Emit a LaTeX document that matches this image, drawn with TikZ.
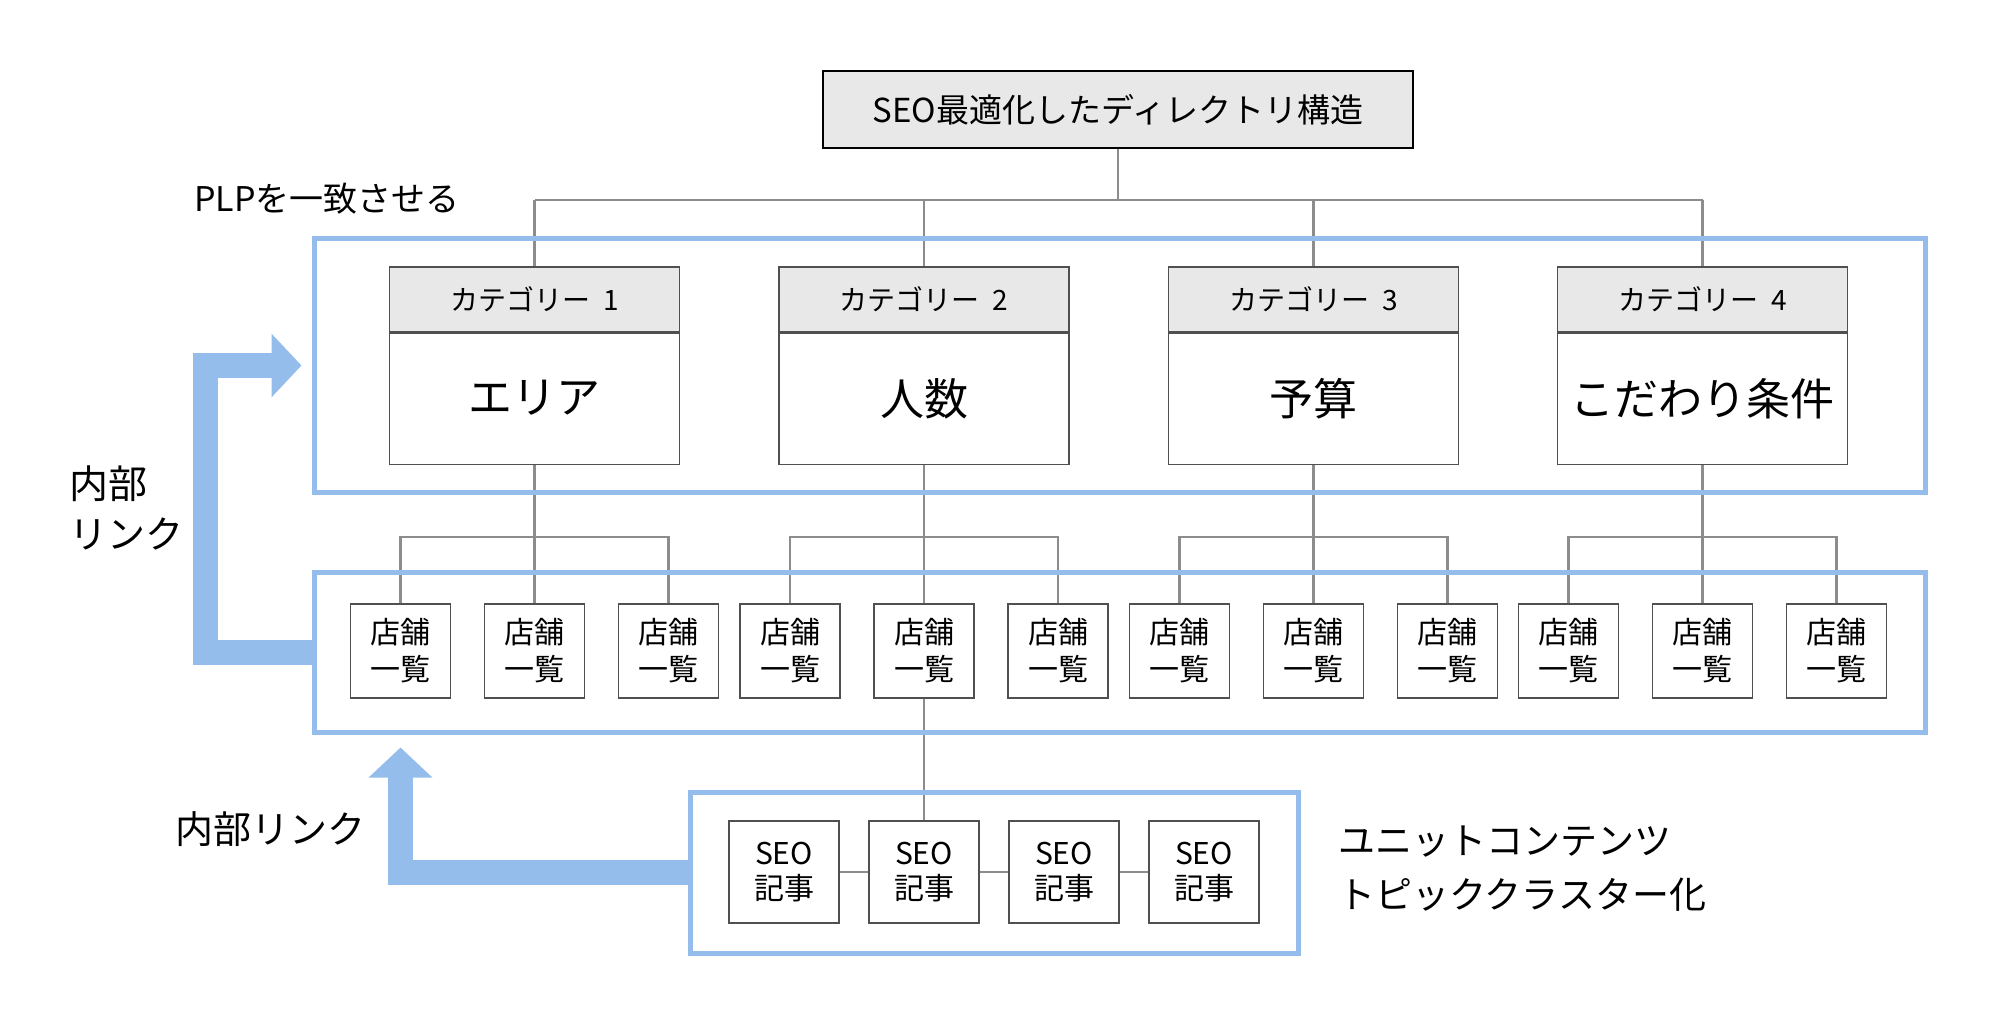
\documentclass[tikz,border=0pt]{standalone}
\usepackage{fontspec}
\setmainfont{Noto Sans CJK JP}
\usetikzlibrary{positioning,fit,calc,arrows.meta}
\definecolor{linkblue}{HTML}{94BDEC}
\definecolor{headgray}{HTML}{E8E8E8}
\definecolor{wiregray}{HTML}{8C8C8C}
\definecolor{edgegray}{HTML}{505050}

\begin{document}
\begin{tikzpicture}[x=0.5pt, y=-0.5pt,
    box/.style={draw=edgegray, line width=0.8pt, inner sep=0pt},
    headbox/.style={box, fill=headgray, minimum width=145pt, minimum height=32.5pt, font=\fontsize{14}{16}\selectfont},
    bodybox/.style={box, fill=white, minimum width=145pt, minimum height=65.5pt, font=\fontsize{22}{26}\selectfont},
    shopbox/.style={box, fill=white, minimum width=50pt, minimum height=47pt, align=center, font=\fontsize{15}{18.5}\selectfont},
    seobox/.style={box, fill=white, minimum width=55pt, minimum height=51pt, align=center, font=\fontsize{15}{17.5}\selectfont},
    zone/.style={draw=linkblue, line width=2.5pt, inner sep=0pt},
    link/.style={draw=wiregray, line width=1.2pt},
    bigarrow/.style={draw=linkblue, line width=12.5pt, -{Triangle[width=31pt, length=15pt]}},
    note/.style={inner sep=0pt, anchor=base west}
  ]
  \useasboundingbox (0,0) rectangle (2000,1021);

  % Title
  \node[box, draw=black, fill=headgray, minimum width=295pt, minimum height=38.5pt,
        font=\fontsize{16.5}{20}\selectfont] (title) at (1118,109.5) {SEO最適化したディレクトリ構造};
  \node[note, font=\fontsize{17}{20}\selectfont] (plp) at (194,212) {PLPを一致させる};

  % Categories and their shop lists
  \foreach \c/\x/\name in {1/534.5/エリア, 2/924/人数, 3/1313.5/予算, 4/1702.5/こだわり条件} {
    \node[headbox] (head\c) at (\x,299.5) {カテゴリー\hspace{0.45em}\c};
    \node[bodybox, below=0pt of head\c] (cat\c) {\raisebox{2.5pt}{\name}};
    \node[shopbox] (shop\c1) at (\x-134,651) {店舗\\一覧};
    \node[shopbox] (shop\c2) at (\x,651) {店舗\\一覧};
    \node[shopbox] (shop\c3) at (\x+134,651) {店舗\\一覧};
  }

  % SEO articles
  \foreach \s/\x in {1/784, 2/924, 3/1064, 4/1204}
    \node[seobox] (seo\s) at (\x,872) {SEO\\記事};

  % Tree lines
  \coordinate (catbus) at (0,200);
  \coordinate (shopbus) at (0,537);
  \draw[link] (title.south) -- (title.south |- catbus);
  \draw[link] (head1.north |- catbus) -- (head4.north |- catbus);
  \foreach \c in {1,...,4} {
    \draw[link] (head\c.north |- catbus) -- (head\c.north);
    \draw[link] (cat\c.south) -- (shop\c2.north);
    \draw[link] (shop\c1.north) -- (shop\c1.north |- shopbus) -- (shop\c3.north |- shopbus) -- (shop\c3.north);
  }
  \draw[link] (shop22) -- (seo2);
  \draw[link] (seo1) -- (seo2) -- (seo3) -- (seo4);

  % Blue zones
  \node[zone, fit={(314,239) (1925,492)}] (catzone) {};
  \node[zone, fit={(314,572) (1925,732)}] (shopzone) {};
  \node[zone, fit={(690,792) (1298,953)}] (seozone) {};

  % Internal links
  \draw[bigarrow] (shopzone.west) -- ++(-106.5,0) |- ([xshift=-5pt]catzone.west);
  \coordinate (uptip) at ($(shop11.south |- shopzone.south)+(0,13)$);
  \draw[bigarrow] (seozone.west) -| (uptip);

  \node[note, font=\fontsize{19.5}{24}\selectfont] (linka) at (69,498) {内部};
  \node[note, font=\fontsize{19}{24}\selectfont] (linkb) at (69,548) {リンク};
  \node[note, font=\fontsize{19}{24}\selectfont] (linkc) at (175,843) {内部リンク};

  % Cluster notes
  \node[note, font=\fontsize{18.5}{24}\selectfont] (unit) at (1338,854) {ユニットコンテンツ};
  \node[note, font=\fontsize{18.5}{24}\selectfont] (topic) at (1338,908) {トピッククラスター化};
\end{tikzpicture}
\end{document}
